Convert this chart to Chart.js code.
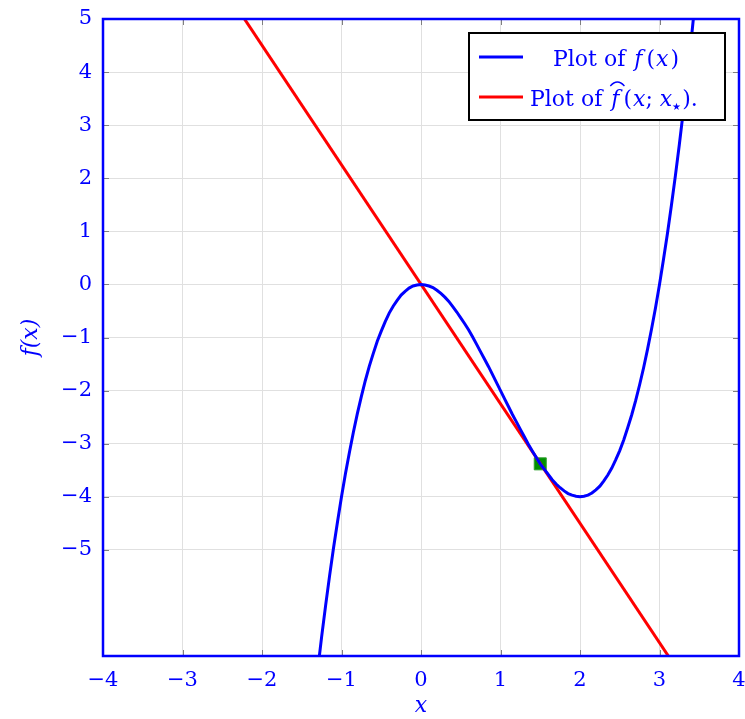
<!DOCTYPE html>
<html>
<head>
<meta charset="utf-8">
<script src="https://cdn.jsdelivr.net/npm/chart.js@4.4.1/dist/chart.umd.min.js"></script>
<style>
  html, body { margin: 0; padding: 0; background: #fff; }
  #wrap { width: 745px; height: 719px; position: relative; }
</style>
</head>
<body>
<div id="wrap"><canvas id="c" width="745" height="719"></canvas></div>
<script>
// ---- data ----
const curveX = [-1.3,-1.25,-1.2,-1.15,-1.1,-1.05,-1.0,-0.95,-0.9,-0.85,-0.8,-0.75,-0.7,-0.65,-0.6,-0.55,-0.5,-0.45,-0.4,-0.35,-0.3,-0.25,-0.2,-0.15,-0.1,-0.05,0,0.05,0.1,0.15,0.2,0.25,0.3,0.35,0.4,0.45,0.5,0.55,0.6,0.65,0.7,0.75,0.8,0.85,0.9,0.95,1.0,1.05,1.1,1.15,1.2,1.25,1.3,1.35,1.4,1.45,1.5,1.55,1.6,1.65,1.7,1.75,1.8,1.85,1.9,1.95,2.0,2.05,2.1,2.15,2.2,2.25,2.3,2.35,2.4,2.45,2.5,2.55,2.6,2.65,2.7,2.75,2.8,2.85,2.9,2.95,3.0,3.05,3.1,3.15,3.2,3.25,3.3,3.35,3.4,3.45,3.5];
const curveY = [-7.27,-6.64,-6.05,-5.49,-4.96,-4.47,-4.0,-3.56,-3.16,-2.78,-2.43,-2.11,-1.81,-1.54,-1.30,-1.07,-0.88,-0.70,-0.54,-0.41,-0.30,-0.20,-0.13,-0.07,-0.03,-0.01,0,-0.01,-0.03,-0.06,-0.11,-0.17,-0.24,-0.32,-0.42,-0.52,-0.63,-0.74,-0.86,-0.99,-1.13,-1.27,-1.41,-1.55,-1.70,-1.85,-2.0,-2.15,-2.30,-2.45,-2.59,-2.73,-2.87,-3.01,-3.14,-3.26,-3.38,-3.48,-3.58,-3.68,-3.76,-3.83,-3.89,-3.94,-3.97,-3.99,-4.0,-3.99,-3.97,-3.93,-3.87,-3.80,-3.70,-3.59,-3.46,-3.30,-3.13,-2.93,-2.70,-2.46,-2.19,-1.89,-1.57,-1.22,-0.84,-0.44,0,0.47,0.96,1.49,2.05,2.64,3.27,3.93,4.62,5.36,6.13];
const tangentX = [-2.5, 3.2];
const tangentY = [5.63, -7.2];
const markX = [1.5];
const markY = [-3.38];
const xTicks = [-4,-3,-2,-1,0,1,2,3,4];
const yTicks = [-5,-4,-3,-2,-1,0,1,2,3,4,5];
const legendLabels = ["Plot of f(x)", "Plot of f̂(x; x⋆)."];

const pts = (xs, ys) => xs.map((x, i) => ({x: x, y: ys[i]}));
const SERIF = '"DejaVu Serif", "Liberation Serif", serif';
const BLUE = '#0000ff';

const framePlugin = {
  id: 'frame',
  beforeDatasetsDraw(chart) {
    const {ctx, chartArea: a, scales} = chart;
    ctx.save();
    ctx.strokeStyle = '#808080';
    ctx.lineWidth = 1;
    const L = 6;
    xTicks.forEach(v => {
      const px = Math.round(scales.x.getPixelForValue(v)) + 0.5;
      ctx.beginPath();
      ctx.moveTo(px, a.bottom); ctx.lineTo(px, a.bottom - L);
      ctx.moveTo(px, a.top); ctx.lineTo(px, a.top + L);
      ctx.stroke();
    });
    yTicks.forEach(v => {
      const py = Math.round(scales.y.getPixelForValue(v)) + 0.5;
      ctx.beginPath();
      ctx.moveTo(a.left, py); ctx.lineTo(a.left + L, py);
      ctx.moveTo(a.right, py); ctx.lineTo(a.right - L, py);
      ctx.stroke();
    });
    ctx.restore();
  },
  afterDatasetsDraw(chart) {
    const {ctx, chartArea: a} = chart;
    ctx.save();
    ctx.strokeStyle = BLUE;
    ctx.lineWidth = 2.5;
    ctx.strokeRect(a.left, a.top, a.right - a.left, a.bottom - a.top);

    // legend box
    const bx = 469, by = 33, bw = 256, bh = 87;
    ctx.fillStyle = '#fff';
    ctx.fillRect(bx, by, bw, bh);
    ctx.strokeStyle = '#000';
    ctx.lineWidth = 2;
    ctx.strokeRect(bx, by, bw, bh);

    ctx.lineWidth = 3;
    ctx.strokeStyle = BLUE;
    ctx.beginPath(); ctx.moveTo(479, 57); ctx.lineTo(523, 57); ctx.stroke();
    ctx.strokeStyle = '#ff0000';
    ctx.beginPath(); ctx.moveTo(479, 97); ctx.lineTo(523, 97); ctx.stroke();

    ctx.fillStyle = BLUE;
    ctx.textBaseline = 'alphabetic';
    const up = '22px ' + SERIF, it = 'italic 22px ' + SERIF, sm = '10px ' + SERIF;
    function run(parts, x, y) {
      parts.forEach(p => {
        ctx.font = p[1];
        const dy = p[2] || 0;
        const gap = p[4] || 0;
        ctx.fillText(p[0], x, y + dy);
        if (p[3]) p[3](x, y, ctx.measureText(p[0]).width);
        x += ctx.measureText(p[0]).width + gap;
      });
    }
    run([["Plot of ", up, 0, null, 2], ["f", it, 0, null, 4], ["(", up, 0, null, 1], ["x", it, 0, null, 2], [")", up]], 553, 66);
    const hat = (x, y, w) => {
      ctx.save();
      ctx.strokeStyle = BLUE; ctx.lineWidth = 1.3;
      ctx.beginPath();
      ctx.moveTo(x - 1, y - 20);
      ctx.quadraticCurveTo(x + w / 2 + 2, y - 28, x + w + 5, y - 20);
      ctx.stroke();
      ctx.restore();
    };
    run([["Plot of ", up, 0, null, 2], ["f", it, 0, hat, 4], ["(", up, 0, null, 1], ["x", it, 0, null, 0], ["; ", up, 0, null, 0], ["x", it, 0, null, 0], ["★", sm, 4, null, 1], [").", up]], 530, 106);
    ctx.restore();
  }
};

new Chart(document.getElementById('c'), {
  type: 'scatter',
  data: {
    datasets: [
      {
        label: legendLabels[0],
        data: pts(curveX, curveY),
        showLine: true,
        borderColor: BLUE,
        borderWidth: 3,
        pointRadius: 0,
        tension: 0
      },
      {
        label: legendLabels[1],
        data: pts(tangentX, tangentY),
        showLine: true,
        borderColor: '#ff0000',
        borderWidth: 3,
        pointRadius: 0
      },
      {
        label: 'x*',
        data: pts(markX, markY),
        showLine: false,
        pointStyle: 'rect',
        pointRadius: 8.5,
        backgroundColor: '#009000',
        borderColor: '#30a030',
        borderWidth: 1
      }
    ]
  },
  options: {
    responsive: false,
    animation: false,
    devicePixelRatio: 1,
    layout: { autoPadding: false, padding: { left: 0, right: 6, top: 19, bottom: 0 } },
    plugins: { legend: { display: false }, tooltip: { enabled: false } },
    scales: {
      x: {
        type: 'linear', min: -4, max: 4,
        afterBuildTicks: s => { s.ticks = xTicks.map(v => ({value: v})); },
        afterFit: s => { s.height = 63; s.paddingLeft = 0; s.paddingRight = 0; s.paddingTop = 0; s.paddingBottom = 0; },
        grid: { color: '#e0e0e0', lineWidth: 1, drawTicks: false },
        border: { display: false },
        ticks: {
          color: BLUE, padding: 12, maxRotation: 0, autoSkip: false,
          font: { family: SERIF, size: 21 },
          callback: v => (v < 0 ? '\u2212' + Math.abs(v) : String(v))
        },
        title: {
          display: true, text: 'x', color: BLUE,
          font: { family: SERIF, size: 22, style: 'italic' },
          padding: { top: 0, bottom: 0 }
        }
      },
      y: {
        type: 'linear', min: -7, max: 5,
        afterBuildTicks: s => { s.ticks = yTicks.map(v => ({value: v})); },
        afterFit: s => { s.width = 103; s.paddingLeft = 0; s.paddingRight = 0; s.paddingTop = 0; s.paddingBottom = 0; },
        grid: { color: '#e0e0e0', lineWidth: 1, drawTicks: false },
        border: { display: false },
        ticks: {
          color: BLUE, padding: 11, autoSkip: false,
          font: { family: SERIF, size: 21 },
          callback: v => (v < 0 ? '\u2212' + Math.abs(v) : String(v))
        },
        title: {
          display: true, text: 'f(x)', color: BLUE,
          font: { family: SERIF, size: 22, style: 'italic' },
          padding: { top: 18, bottom: 0 }
        }
      }
    }
  },
  plugins: [framePlugin]
});
</script>
</body>
</html>
